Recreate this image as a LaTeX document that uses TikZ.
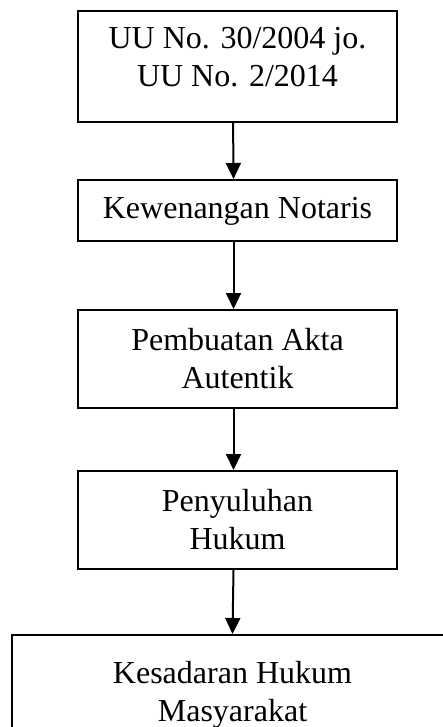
\documentclass[tikz,border=0pt]{standalone}
\usepackage{fontspec}
\setmainfont{Liberation Serif}
\usetikzlibrary{arrows.meta}

\tikzset{every picture/.style={line width=1pt}}
\tikzset{flowbox/.style={draw, inner sep=0pt, align=center, anchor=north, minimum width=159.5pt, font=\fontsize{16}{19}\selectfont},
  flowarrow/.style={-{Triangle[width=7.5pt,length=8pt]}}}

\begin{document}
\begin{tikzpicture}[x=0.5pt,y=0.5pt,yscale=-1,xscale=1]
\useasboundingbox (0,0) rectangle (443,727);

% Text Node
\node [flowbox, text height=38pt, text depth=17.5pt] (uu) at (237.5,10) {UU No. 30/2004 jo.\\UU No. 2/2014};
% Text Node
\node [flowbox, text height=19.5pt, text depth=11pt] (wenang) at (237.5,179) {Kewenangan Notaris};
% Text Node
\node [flowbox, text height=39pt, text depth=10pt] (akta) at (237.5,309) {Pembuatan Akta\\Autentik};
% Text Node
\node [flowbox, text height=39pt, text depth=10pt] (suluh) at (237.5,470) {Penyuluhan\\Hukum};
% Text Node
\node [flowbox, minimum width=220.5pt, text height=43pt, text depth=30pt] (sadar) at (232.5,634) {Kesadaran Hukum\\Masyarakat};

%Straight Lines
\draw [flowarrow] ([xshift=-2.2pt]uu.south) -- ([xshift=-2pt]wenang.north);
\draw [flowarrow] ([xshift=-2pt]wenang.south) -- ([xshift=-2pt]akta.north);
\draw [flowarrow] ([xshift=-2pt]akta.south) -- ([xshift=-2pt]suluh.north);
\draw [flowarrow] ([xshift=-2pt]suluh.south) -- (sadar.north);

\end{tikzpicture}
\end{document}
